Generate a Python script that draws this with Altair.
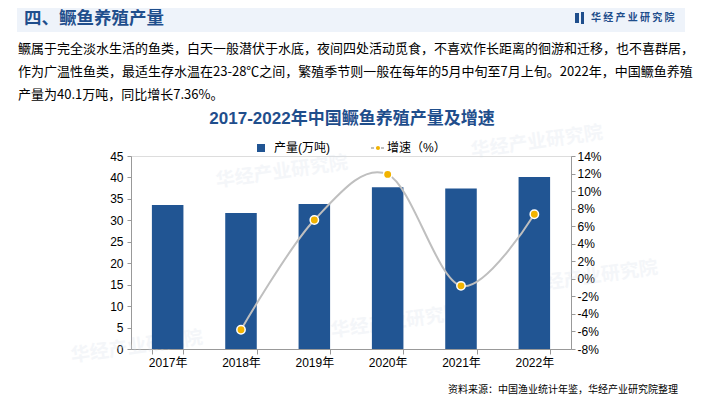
import altair as alt
import pandas as pd

years = ["2017年", "2018年", "2019年", "2020年", "2021年", "2022年"]
output = [33.6, 31.7, 33.8, 37.7, 37.4, 40.1]
growth = [None, -5.8, 6.7, 11.9, -0.8, 7.36]

header_title = "四、鳜鱼养殖产量"
logo_text = "华 经 产 业 研 究 院"
paragraph = [
    "鳜属于完全淡水生活的鱼类，白天一般潜伏于水底，夜间四处活动觅食，不喜欢作长距离的徊游和迁移，也不喜群居，",
    "作为广温性鱼类，最适生存水温在23-28℃之间，繁殖季节则一般在每年的5月中旬至7月上旬。2022年，中国鳜鱼养殖",
    "产量为40.1万吨，同比增长7.36%。",
]
chart_title = "2017-2022年中国鳜鱼养殖产量及增速"
legend_labels = ["产量(万吨)", "增速（%）"]
source_text = "资料来源：中国渔业统计年鉴，华经产业研究院整理"
watermark = "华经产业研究院"

FONT = "Liberation Sans, Noto Sans CJK SC"
CJK = "Noto Sans CJK SC"
BAR = "#215593"
TITLE_BLUE = "#1F4E8C"

df = pd.DataFrame({"year": years, "output": output, "growth": growth})
one = pd.DataFrame({"k": [0]})

x_enc = alt.X(
    "year:N",
    sort=years,
    scale=alt.Scale(paddingInner=0.57, paddingOuter=0.285),
    axis=alt.Axis(
        title=None, labelAngle=0, labelFontSize=12, labelColor="#000000",
        labelFont=FONT, domainColor="#999999", tickColor="#999999",
        tickSize=5, labelPadding=3, tickBand="extent",
    ),
)

bars = alt.Chart(df).mark_bar(color=BAR).encode(
    x=x_enc,
    y=alt.Y(
        "output:Q",
        scale=alt.Scale(domain=[0, 45], nice=False),
        axis=alt.Axis(
            title=None, values=list(range(0, 46, 5)), grid=False,
            labelFontSize=12, labelColor="#000000", labelFont=FONT,
            domainColor="#999999", tickColor="#999999", tickSize=4,
            labelPadding=4,
        ),
    ),
)

gscale = alt.Scale(domain=[-8, 14], nice=False)
line = alt.Chart(df).transform_filter("datum.growth != null").mark_line(
    color="#BFBFBF", strokeWidth=2, interpolate="cardinal"
).encode(
    x=alt.X("year:N", sort=years),
    y=alt.Y(
        "growth:Q", scale=gscale,
        axis=alt.Axis(
            title=None, orient="right", values=list(range(-8, 15, 2)),
            labelExpr="datum.value + '%'", grid=False, labelFontSize=12,
            labelColor="#000000", labelFont=FONT, domainColor="#999999",
            tickColor="#999999", tickSize=4, labelPadding=2,
        ),
    ),
)

points = alt.Chart(df).transform_filter("datum.growth != null").mark_circle(
    color="#F2B300", opacity=1, size=70, stroke="#FFFFFF", strokeWidth=1.5
).encode(
    x=alt.X("year:N", sort=years),
    y=alt.Y("growth:Q", scale=gscale, axis=None),
)


def txt(text, x, y, size=12, color="#000000", weight="normal", align="left",
        font=CJK, opacity=1.0, angle=0):
    kw = dict(text=text, fontSize=size, color=color, fontWeight=weight,
              align=align, baseline="middle", font=font, opacity=opacity)
    if angle:
        kw["angle"] = angle
    return alt.Chart(one).mark_text(**kw).encode(x=alt.value(x), y=alt.value(y))


def box(x, x2, y, y2, color):
    return alt.Chart(one).mark_rect(color=color).encode(
        x=alt.value(x), x2=alt.value(x2), y=alt.value(y), y2=alt.value(y2)
    )


wm_pos = [(85, 25), (340, -5), (200, 175), (395, 130), (-60, 200)]
watermarks = [
    txt(watermark, x, y, size=19, color="#D5DDEA", weight="bold", opacity=0.25, angle=352)
    for x, y in wm_pos
]

header = [
    box(-114, 554, -152, -124, "#EEF3FA"),
    txt(header_title, -107, -137, size=17.5, color=TITLE_BLUE, weight="bold", font=FONT),
    box(444, 448, -143, -133, TITLE_BLUE),
    box(450, 453, -144, -132, TITLE_BLUE),
    txt(logo_text, 460, -138, size=10, color=TITLE_BLUE, weight="bold"),
]
para = [txt(t, -113, y, size=13) for t, y in zip(paragraph, [-107, -84, -61])]

legend = [
    box(126, 134, -12, -4, BAR),
    txt(legend_labels[0], 143, -8, size=12, font=FONT),
    alt.Chart(one).mark_rule(color="#BFBFBF", strokeWidth=2, strokeDash=[3, 2]).encode(
        x=alt.value(240), x2=alt.value(254), y=alt.value(-8)
    ),
    alt.Chart(one).mark_circle(color="#F2B300", opacity=1, size=16).encode(
        x=alt.value(247), y=alt.value(-8)
    ),
    txt(legend_labels[1], 256, -8, size=12, font=FONT),
]

titles = [
    txt(chart_title, 221, -37, size=17, color=TITLE_BLUE, weight="bold", align="center", font=FONT),
    txt(source_text, 547, 234, size=10, align="right"),
]

chart = alt.layer(
    *watermarks, bars, line, points, *header, *para, *legend, *titles
).resolve_scale(y="independent").properties(
    width=440,
    height=193,
    padding={"left": 123, "top": 148, "right": 124, "bottom": 47},
    autosize=alt.AutoSizeParams(type="none"),
).configure_view(stroke=None).configure(background="#FFFFFF")

chart.save("out.html", embed_options={"renderer": "svg", "actions": False})
